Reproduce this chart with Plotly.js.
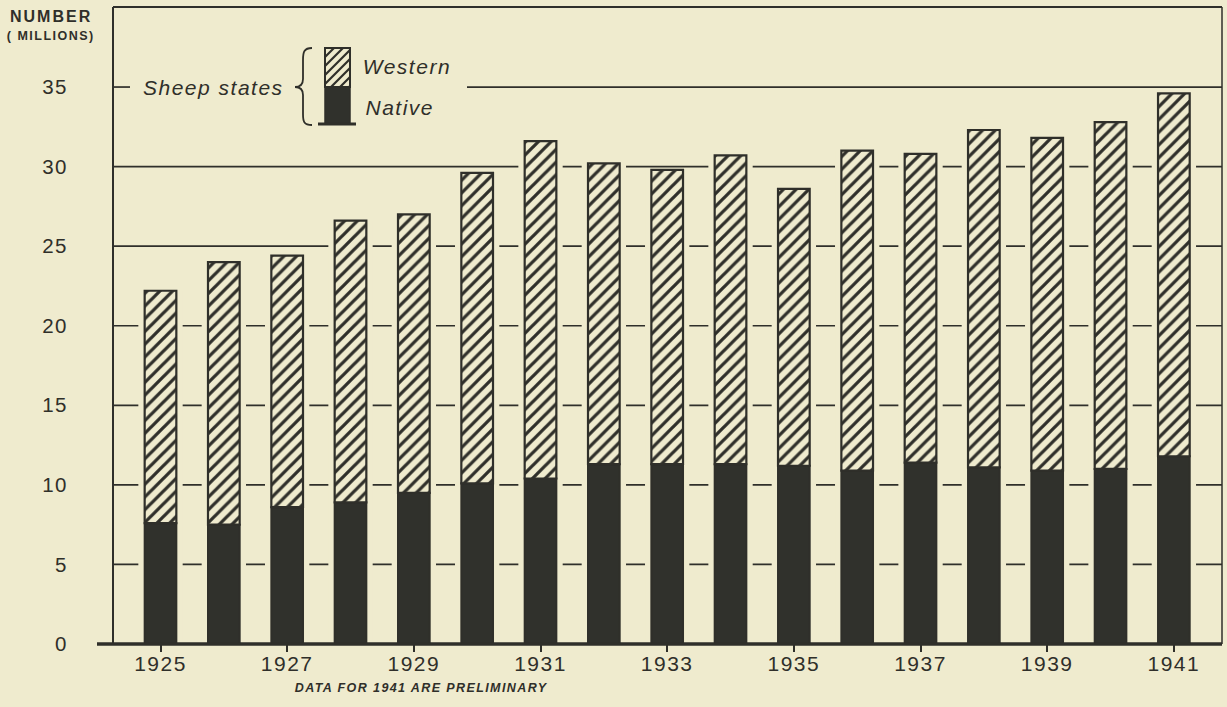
<!DOCTYPE html>
<html>
<head>
<meta charset="utf-8">
<script src="https://cdn.plot.ly/plotly-3.0.1.min.js"></script>
<style>
  html, body { margin: 0; padding: 0; background: #EFEBCE; }
  #chart { width: 1227px; height: 707px; }
  .xtick text { letter-spacing: 1.5px; }
  .ytick text { letter-spacing: 1.5px; }
</style>
</head>
<body>
<div id="chart"></div>
<script>
// ---- data (millions of head) ----
const years = [1925, 1926, 1927, 1928, 1929, 1930, 1931, 1932, 1933, 1934, 1935, 1936, 1937, 1938, 1939, 1940, 1941];
const nativeStates = [7.6, 7.5, 8.6, 8.9, 9.5, 10.1, 10.4, 11.3, 11.3, 11.3, 11.2, 10.9, 11.4, 11.1, 10.9, 11.0, 11.8];
const westernStates = [14.6, 16.5, 15.8, 17.7, 17.5, 19.5, 21.2, 18.9, 18.5, 19.4, 17.4, 20.1, 19.4, 21.2, 20.9, 21.8, 22.8];
const xTickYears = [1925, 1927, 1929, 1931, 1933, 1935, 1937, 1939, 1941];
const xTickLabels = ["1925", "1927", "1929", "1931", "1933", "1935", "1937", "1939", "1941"];
const yTickValues = [0, 5, 10, 15, 20, 25, 30, 35];
const yTickLabels = ["0", "5", "10", "15", "20", "25", "30", "35"];
const seriesNames = ["Western", "Native"];
const groupLabel = "Sheep states";
const yTitleLines = ["NUMBER", "( MILLIONS)"];
const footNote = "DATA FOR 1941 ARE PRELIMINARY";

// ---- style ----
const BG = "#EFEBCE";
const INK = "#2f2f2a";
const DARK = "#30312c";
const W = 1227, H = 707;
const M = { l: 113, r: 5, t: 7, b: 63 };
const PW = W - M.l - M.r, PH = H - M.t - M.b;
const px = x => (x - M.l) / PW;          // pixel -> paper
const py = y => (H - M.b - y) / PH;

const totals = years.map((_, i) => nativeStates[i] + westernStates[i]);

const traces = [
  { // clearance behind each bar so grid rules stop short of it
    type: "bar", x: years, y: totals, base: 0, width: 0.70,
    marker: { color: BG, line: { width: 0 } }, hoverinfo: "skip", showlegend: false
  },
  {
    type: "bar", name: seriesNames[1], x: years, y: nativeStates, base: 0, width: 0.5,
    marker: { color: DARK, line: { color: INK, width: 2 } }, showlegend: false
  },
  {
    type: "bar", name: seriesNames[0], x: years, y: westernStates, base: nativeStates, width: 0.5,
    marker: {
      color: BG,
      line: { color: INK, width: 2.2 },
      pattern: { shape: "/", fgcolor: INK, bgcolor: BG, size: 9, solidity: 0.36, fillmode: "replace" }
    },
    showlegend: false
  }
];

const shapes = [];
// grid rules
yTickValues.forEach(v => {
  if (v === 0) return;
  if (v === yTickValues[yTickValues.length - 1]) {
    shapes.push({ type: "line", layer: "below", xref: "paper", yref: "y", x0: 0, x1: px(130), y0: v, y1: v, line: { color: INK, width: 1.7 } });
    shapes.push({ type: "line", layer: "below", xref: "paper", yref: "y", x0: px(467), x1: 1, y0: v, y1: v, line: { color: INK, width: 1.7 } });
  } else {
    shapes.push({ type: "line", layer: "below", xref: "paper", yref: "y", x0: 0, x1: 1, y0: v, y1: v, line: { color: INK, width: 1.7 } });
  }
});
// frame
shapes.push({ type: "line", layer: "above", xref: "paper", yref: "paper", x0: 0, x1: 0, y0: 0, y1: 1, line: { color: INK, width: 2 } });
shapes.push({ type: "line", layer: "above", xref: "paper", yref: "paper", x0: 0, x1: 1, y0: 1, y1: 1, line: { color: INK, width: 2 } });
shapes.push({ type: "line", layer: "above", xref: "paper", yref: "paper", x0: 1, x1: 1, y0: 0, y1: 1, line: { color: INK, width: 1.5 } });
shapes.push({ type: "line", layer: "above", xref: "paper", yref: "paper", x0: px(97), x1: 1, y0: 0, y1: 0, line: { color: INK, width: 3.5 } });

// legend swatch
const sw = { x0: 325, x1: 350, yTop: 48, yMid: 87, yBot: 124 };
shapes.push({ type: "rect", xref: "paper", yref: "paper", x0: px(sw.x0), x1: px(sw.x1), y0: py(sw.yMid), y1: py(sw.yBot), fillcolor: DARK, line: { color: INK, width: 1.5 } });
shapes.push({ type: "rect", xref: "paper", yref: "paper", x0: px(sw.x0), x1: px(sw.x1), y0: py(sw.yTop), y1: py(sw.yMid), fillcolor: BG, line: { color: INK, width: 2 } });
let hatch = "";
for (let c = sw.x0 + sw.yTop + 9; c < sw.x1 + sw.yMid; c += 9) {
  const xa = Math.max(sw.x0, c - sw.yMid), xb = Math.min(sw.x1, c - sw.yTop);
  if (xb <= xa) continue;
  hatch += `M${px(xa)},${py(c - xa)} L${px(xb)},${py(c - xb)} `;
}
shapes.push({ type: "path", xref: "paper", yref: "paper", path: hatch, line: { color: INK, width: 2.2 } });
shapes.push({ type: "line", xref: "paper", yref: "paper", x0: px(318), x1: px(356), y0: py(124), y1: py(124), line: { color: INK, width: 3 } });
// brace
const P = (x, y) => `${px(x)},${py(y)}`;
const brace = `M${P(312, 48)} C${P(304, 48)} ${P(303, 52)} ${P(303, 60)} L${P(303, 79)} C${P(303, 84)} ${P(300, 87)} ${P(295, 87)} C${P(300, 87)} ${P(303, 90)} ${P(303, 95)} L${P(303, 114)} C${P(303, 122)} ${P(304, 125)} ${P(312, 125)}`;
shapes.push({ type: "path", xref: "paper", yref: "paper", path: brace, line: { color: INK, width: 1.8 } });

const FONT = "Liberation Sans, Arial, sans-serif";
const annotations = [
  { text: groupLabel, x: px(213), y: py(88), font: { family: FONT, size: 21, style: "italic", color: INK } },
  { text: seriesNames[0], x: px(407), y: py(67), font: { family: FONT, size: 21, style: "italic", color: INK } },
  { text: seriesNames[1], x: px(400), y: py(107), font: { family: FONT, size: 21, style: "italic", color: INK } },
  { text: yTitleLines[0], x: px(51), y: py(17), font: { family: FONT, size: 16, weight: "bold", color: INK } },
  { text: yTitleLines[1], x: px(51), y: py(36), font: { family: FONT, size: 12.5, weight: "bold", color: INK } },
  { text: footNote, x: px(422), y: py(688), font: { family: FONT, size: 12.5, weight: "bold", style: "italic", color: INK } }
].map(a => Object.assign({ xref: "paper", yref: "paper", showarrow: false, xanchor: "center", yanchor: "middle" }, a));

const layout = {
  width: W, height: H,
  margin: M,
  paper_bgcolor: BG, plot_bgcolor: BG,
  barmode: "overlay",
  showlegend: false,
  xaxis: {
    range: [1924.25, 1941.76], tickmode: "array", tickvals: xTickYears, ticktext: xTickLabels,
    ticks: "outside", ticklen: 7, tickwidth: 2, tickcolor: INK,
    ticklabelstandoff: -6,
    showgrid: false, zeroline: false, showline: false,
    tickfont: { family: FONT, size: 21, color: INK }
  },
  yaxis: {
    range: [0, 40.03], tickmode: "array", tickvals: yTickValues, ticktext: yTickLabels,
    ticks: "", showgrid: false, zeroline: false, showline: false,
    ticklabelstandoff: 44,
    tickfont: { family: FONT, size: 20.5, color: INK }
  },
  shapes: shapes,
  annotations: annotations
};

Plotly.newPlot("chart", traces, layout, { displayModeBar: false, staticPlot: true }).then(gd => {
  const spacing = { "Sheep states": "1.5px", "Western": "1.5px", "Native": "1.5px", "NUMBER": "2px", "( MILLIONS)": "1.5px" };
  spacing[footNote] = "1.4px";
  gd.querySelectorAll(".annotation-text").forEach(t => {
    const s = spacing[t.textContent];
    if (s) t.style.letterSpacing = s;
  });
});
</script>
</body>
</html>
